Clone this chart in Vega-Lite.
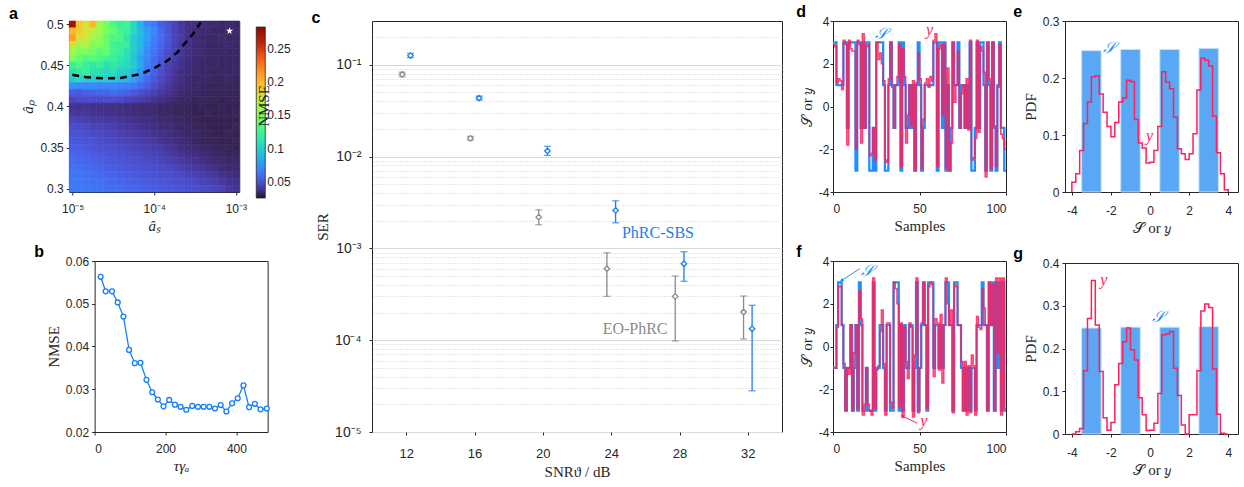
{
  "$schema": "https://vega.github.io/schema/vega-lite/v6.json",
  "background": "white",
  "padding": {"left": 8, "top": 3, "right": 0, "bottom": 0},
  "config": {
    "font": "Liberation Sans",
    "view": {"stroke": "#262626", "strokeWidth": 1},
    "axis": {"labelFont": "Liberation Sans", "labelFontSize": 12, "labelColor": "#262626", "titleFont": "Liberation Serif", "titleFontSize": 15, "titleFontWeight": "normal", "titleColor": "#262626", "domain": false, "tickColor": "#262626", "tickSize": 3, "grid": false, "labelPadding": 3, "titlePadding": 4},
    "axisX": {"labelPadding": 8},
    "title": {"font": "Liberation Sans", "fontSize": 16, "fontWeight": "bold", "anchor": "start", "frame": "bounds", "offset": -5, "baseline": "alphabetic", "color": "black"}
  },
  "resolve": {"scale": {"color": "independent"}},
  "datasets": {
    "heat": [
      {"j":24,"i":[0,1,2,3,4,5,6,7,8,9,10,11,12,13,14,15,16,17,18,19,20,21,22,23,24],"v":[0.27,0.195,0.18,0.2,0.16,0.145,0.13,0.12,0.125,0.105,0.085,0.07,0.065,0.055,0.05,0.045,0.04,0.037,0.036,0.035,0.034,0.034,0.033,0.034,0.033]},
      {"j":23,"i":[0,1,2,3,4,5,6,7,8,9,10,11,12,13,14,15,16,17,18,19,20,21,22,23,24],"v":[0.2,0.19,0.18,0.17,0.16,0.145,0.14,0.125,0.12,0.105,0.09,0.078,0.07,0.058,0.05,0.044,0.04,0.037,0.035,0.034,0.034,0.033,0.033,0.033,0.034]},
      {"j":22,"i":[0,1,2,3,4,5,6,7,8,9,10,11,12,13,14,15,16,17,18,19,20,21,22,23,24],"v":[0.21,0.18,0.175,0.16,0.155,0.14,0.13,0.13,0.115,0.1,0.088,0.08,0.066,0.06,0.052,0.045,0.041,0.037,0.035,0.034,0.033,0.033,0.034,0.033,0.033]},
      {"j":21,"i":[0,1,2,3,4,5,6,7,8,9,10,11,12,13,14,15,16,17,18,19,20,21,22,23,24],"v":[0.18,0.16,0.165,0.15,0.15,0.14,0.125,0.12,0.12,0.1,0.09,0.075,0.065,0.057,0.05,0.044,0.04,0.037,0.035,0.034,0.033,0.033,0.033,0.034,0.033]},
      {"j":20,"i":[0,1,2,3,4,5,6,7,8,9,10,11,12,13,14,15,16,17,18,19,20,21,22,23,24],"v":[0.16,0.15,0.15,0.145,0.135,0.14,0.125,0.12,0.11,0.1,0.085,0.072,0.063,0.055,0.048,0.043,0.039,0.036,0.035,0.034,0.033,0.033,0.033,0.033,0.033]},
      {"j":19,"i":[0,1,2,3,4,5,6,7,8,9,10,11,12,13,14,15,16,17,18,19,20,21,22,23,24],"v":[0.15,0.14,0.13,0.135,0.13,0.125,0.12,0.115,0.11,0.095,0.08,0.07,0.06,0.052,0.046,0.042,0.038,0.036,0.034,0.034,0.033,0.033,0.033,0.033,0.033]},
      {"j":18,"i":[0,1,2,3,4,5,6,7,8,9,10,11,12,13,14,15,16,17,18,19,20,21,22,23,24],"v":[0.12,0.13,0.12,0.115,0.12,0.11,0.115,0.11,0.105,0.1,0.082,0.066,0.06,0.05,0.044,0.04,0.037,0.035,0.034,0.033,0.033,0.033,0.032,0.033,0.033]},
      {"j":17,"i":[0,1,2,3,4,5,6,7,8,9,10,11,12,13,14,15,16,17,18,19,20,21,22,23,24],"v":[0.11,0.115,0.12,0.11,0.11,0.105,0.11,0.1,0.1,0.09,0.075,0.064,0.055,0.048,0.043,0.039,0.036,0.035,0.034,0.033,0.033,0.032,0.033,0.033,0.033]},
      {"j":16,"i":[0,1,2,3,4,5,6,7,8,9,10,11,12,13,14,15,16,17,18,19,20,21,22,23,24],"v":[0.1,0.105,0.1,0.1,0.1,0.1,0.095,0.095,0.09,0.08,0.07,0.06,0.052,0.046,0.042,0.038,0.036,0.034,0.033,0.033,0.033,0.032,0.032,0.033,0.032]},
      {"j":15,"i":[0,1,2,3,4,5,6,7,8,9,10,11,12,13,14,15,16,17,18,19,20,21,22,23,24],"v":[0.075,0.072,0.07,0.072,0.07,0.07,0.07,0.068,0.068,0.065,0.06,0.054,0.048,0.044,0.04,0.037,0.035,0.034,0.033,0.033,0.032,0.032,0.032,0.032,0.032]},
      {"j":14,"i":[0,1,2,3,4,5,6,7,8,9,10,11,12,13,14,15,16,17,18,19,20,21,22,23,24],"v":[0.055,0.052,0.055,0.056,0.058,0.057,0.06,0.058,0.056,0.052,0.049,0.046,0.043,0.04,0.038,0.036,0.034,0.033,0.033,0.032,0.032,0.032,0.032,0.032,0.032]},
      {"j":13,"i":[0,1,2,3,4,5,6,7,8,9,10,11,12,13,14,15,16,17,18,19,20,21,22,23,24],"v":[0.045,0.047,0.048,0.048,0.047,0.048,0.048,0.047,0.045,0.044,0.042,0.04,0.038,0.037,0.035,0.034,0.033,0.033,0.032,0.032,0.032,0.032,0.031,0.032,0.032]},
      {"j":12,"i":[0,1,2,3,4,5,6,7,8,9,10,11,12,13,14,15,16,17,18,19,20,21,22,23,24],"v":[0.038,0.037,0.038,0.037,0.037,0.037,0.036,0.036,0.035,0.035,0.034,0.034,0.034,0.033,0.033,0.032,0.032,0.032,0.031,0.032,0.031,0.031,0.032,0.031,0.031]},
      {"j":11,"i":[0,1,2,3,4,5,6,7,8,9,10,11,12,13,14,15,16,17,18,19,20,21,22,23,24],"v":[0.04,0.039,0.039,0.038,0.038,0.037,0.037,0.036,0.036,0.035,0.035,0.034,0.034,0.033,0.033,0.033,0.032,0.032,0.031,0.031,0.032,0.031,0.031,0.031,0.032]},
      {"j":10,"i":[0,1,2,3,4,5,6,7,8,9,10,11,12,13,14,15,16,17,18,19,20,21,22,23,24],"v":[0.044,0.043,0.042,0.041,0.041,0.04,0.04,0.039,0.038,0.037,0.036,0.036,0.035,0.034,0.034,0.033,0.033,0.032,0.032,0.031,0.031,0.031,0.031,0.031,0.031]},
      {"j":9,"i":[0,1,2,3,4,5,6,7,8,9,10,11,12,13,14,15,16,17,18,19,20,21,22,23,24],"v":[0.048,0.047,0.046,0.044,0.044,0.043,0.042,0.041,0.04,0.039,0.038,0.037,0.036,0.035,0.035,0.034,0.033,0.033,0.032,0.032,0.031,0.031,0.031,0.031,0.032]},
      {"j":8,"i":[0,1,2,3,4,5,6,7,8,9,10,11,12,13,14,15,16,17,18,19,20,21,22,23,24],"v":[0.05,0.05,0.049,0.047,0.046,0.045,0.044,0.043,0.042,0.041,0.04,0.039,0.038,0.037,0.036,0.035,0.034,0.033,0.033,0.032,0.032,0.031,0.031,0.032,0.031]},
      {"j":7,"i":[0,1,2,3,4,5,6,7,8,9,10,11,12,13,14,15,16,17,18,19,20,21,22,23,24],"v":[0.052,0.051,0.05,0.05,0.048,0.047,0.046,0.045,0.044,0.043,0.042,0.041,0.04,0.038,0.037,0.036,0.035,0.034,0.033,0.032,0.032,0.032,0.031,0.031,0.032]},
      {"j":6,"i":[0,1,2,3,4,5,6,7,8,9,10,11,12,13,14,15,16,17,18,19,20,21,22,23,24],"v":[0.055,0.054,0.052,0.051,0.05,0.049,0.048,0.047,0.046,0.045,0.044,0.043,0.042,0.041,0.039,0.038,0.036,0.035,0.034,0.033,0.033,0.032,0.032,0.032,0.031]},
      {"j":5,"i":[0,1,2,3,4,5,6,7,8,9,10,11,12,13,14,15,16,17,18,19,20,21,22,23,24],"v":[0.057,0.056,0.055,0.053,0.052,0.051,0.05,0.049,0.048,0.047,0.046,0.045,0.044,0.043,0.041,0.04,0.038,0.037,0.036,0.035,0.034,0.033,0.033,0.032,0.032]},
      {"j":4,"i":[0,1,2,3,4,5,6,7,8,9,10,11,12,13,14,15,16,17,18,19,20,21,22,23,24],"v":[0.06,0.058,0.057,0.056,0.054,0.053,0.052,0.051,0.05,0.049,0.048,0.047,0.046,0.045,0.043,0.042,0.041,0.039,0.038,0.036,0.035,0.034,0.034,0.033,0.033]},
      {"j":3,"i":[0,1,2,3,4,5,6,7,8,9,10,11,12,13,14,15,16,17,18,19,20,21,22,23,24],"v":[0.062,0.061,0.059,0.058,0.057,0.055,0.054,0.053,0.052,0.051,0.05,0.049,0.048,0.047,0.046,0.045,0.043,0.042,0.04,0.039,0.038,0.036,0.035,0.034,0.034]},
      {"j":2,"i":[0,1,2,3,4,5,6,7,8,9,10,11,12,13,14,15,16,17,18,19,20,21,22,23,24],"v":[0.063,0.062,0.061,0.06,0.059,0.058,0.057,0.055,0.054,0.053,0.052,0.051,0.05,0.049,0.048,0.047,0.046,0.044,0.043,0.042,0.04,0.039,0.037,0.036,0.035]},
      {"j":1,"i":[0,1,2,3,4,5,6,7,8,9,10,11,12,13,14,15,16,17,18,19,20,21,22,23,24],"v":[0.064,0.064,0.063,0.062,0.061,0.06,0.058,0.057,0.056,0.055,0.054,0.053,0.052,0.051,0.05,0.049,0.048,0.047,0.046,0.044,0.043,0.042,0.04,0.038,0.037]},
      {"j":0,"i":[0,1,2,3,4,5,6,7,8,9,10,11,12,13,14,15,16,17,18,19,20,21,22,23,24],"v":[0.064,0.065,0.064,0.063,0.062,0.061,0.06,0.059,0.058,0.057,0.056,0.055,0.054,0.053,0.052,0.051,0.05,0.049,0.048,0.047,0.046,0.045,0.043,0.04,0.038]}
    ],
    "dash": [
      {"lx":-5.005,"ap":0.4388},{"lx":-4.821,"ap":0.4355},{"lx":-4.617,"ap":0.4343},{"lx":-4.4125,"ap":0.4347},{"lx":-4.1675,"ap":0.4395},{"lx":-3.983,"ap":0.4477},{"lx":-3.84,"ap":0.4558},{"lx":-3.718,"ap":0.4659},{"lx":-3.596,"ap":0.4802},{"lx":-3.493,"ap":0.4924},{"lx":-3.432,"ap":0.5025}
    ],
    "star": [{"lx":-3.077,"ap":0.492}],
    "nmse": [
      {"t":17,"e":0.0563},{"t":31.2,"e":0.0529},{"t":49.1,"e":0.0529},{"t":65.2,"e":0.0503},{"t":81.2,"e":0.047},{"t":97.2,"e":0.0392},{"t":113.2,"e":0.0361},{"t":129.3,"e":0.0362},{"t":146.3,"e":0.0322},{"t":162.3,"e":0.0293},{"t":178.3,"e":0.0276},{"t":194.3,"e":0.026},{"t":210.4,"e":0.0275},{"t":226.4,"e":0.0264},{"t":242.4,"e":0.0259},{"t":258.5,"e":0.0252},{"t":275.4,"e":0.0261},{"t":291.5,"e":0.0259},{"t":307.5,"e":0.0259},{"t":323.5,"e":0.0259},{"t":339.5,"e":0.0255},{"t":355.6,"e":0.0263},{"t":371.6,"e":0.0248},{"t":387.6,"e":0.0267},{"t":403.7,"e":0.0279},{"t":419.7,"e":0.0309},{"t":435.7,"e":0.0258},{"t":451.8,"e":0.0266},{"t":467.8,"e":0.0253},{"t":485.7,"e":0.0255}
    ],
    "ser": [
      {"m":"EO-PhRC","snr":11.77,"ser":0.0785,"lo":0.074,"hi":0.083},
      {"m":"EO-PhRC","snr":15.76,"ser":0.0158,"lo":0.0151,"hi":0.0166},
      {"m":"EO-PhRC","snr":19.76,"ser":0.00219,"lo":0.00181,"hi":0.00263},
      {"m":"EO-PhRC","snr":23.75,"ser":0.0006,"lo":0.0003,"hi":0.000897},
      {"m":"EO-PhRC","snr":27.75,"ser":0.0003,"lo":0.000098,"hi":0.0005},
      {"m":"EO-PhRC","snr":31.75,"ser":0.000203,"lo":0.000103,"hi":0.000303},
      {"m":"PhRC-SBS","snr":12.25,"ser":0.126,"lo":0.12,"hi":0.133},
      {"m":"PhRC-SBS","snr":16.27,"ser":0.0434,"lo":0.0413,"hi":0.0456},
      {"m":"PhRC-SBS","snr":20.27,"ser":0.01153,"lo":0.0103,"hi":0.01295},
      {"m":"PhRC-SBS","snr":24.26,"ser":0.00259,"lo":0.0019,"hi":0.0033},
      {"m":"PhRC-SBS","snr":28.26,"ser":0.000681,"lo":0.000438,"hi":0.00092},
      {"m":"PhRC-SBS","snr":32.25,"ser":0.000133,"lo":0.0000281,"hi":0.00024}
    ],
    "serlab": [
      {"m":"PhRC-SBS","snr":24.63,"ser":0.00148,"t":"PhRC-SBS"},
      {"m":"EO-PhRC","snr":23.5,"ser":0.000132,"t":"EO-PhRC"}
    ],
    "dsig": [
      {"n":0,"S":3,"y":2.9},{"n":1,"S":3,"y":2.8},{"n":2,"S":1,"y":1.1},{"n":3,"S":1,"y":1.3},{"n":4,"S":1,"y":1.2},{"n":5,"S":1,"y":0.8},{"n":6,"S":3,"y":3.1},{"n":7,"S":3,"y":2.9},{"n":8,"S":-1,"y":-1.8},{"n":9,"S":3,"y":3.1},
      {"n":10,"S":3,"y":2.7},{"n":11,"S":3,"y":2.6},{"n":12,"S":3,"y":2.6},{"n":13,"S":-3,"y":-2.0},{"n":14,"S":3,"y":3.1},{"n":15,"S":3,"y":2.9},{"n":16,"S":-1,"y":-1.7},{"n":17,"S":3,"y":3.4},{"n":18,"S":-1,"y":-1.0},{"n":19,"S":3,"y":2.8},
      {"n":20,"S":3,"y":2.9},{"n":21,"S":-3,"y":-2.3},{"n":22,"S":-3,"y":-2.2},{"n":23,"S":-1,"y":-1.0},{"n":24,"S":-3,"y":-2.5},{"n":25,"S":3,"y":3.0},{"n":26,"S":3,"y":2.2},{"n":27,"S":3,"y":2.5},{"n":28,"S":3,"y":2.0},{"n":29,"S":1,"y":1.2},
      {"n":30,"S":-3,"y":-2.5},{"n":31,"S":-3,"y":-2.6},{"n":32,"S":1,"y":1.3},{"n":33,"S":3,"y":3.0},{"n":34,"S":1,"y":0.9},{"n":35,"S":-1,"y":-1.0},{"n":36,"S":1,"y":1.0},{"n":37,"S":1,"y":1.4},{"n":38,"S":3,"y":2.9},{"n":39,"S":-3,"y":-2.8},
      {"n":40,"S":3,"y":2.7},{"n":41,"S":1,"y":1.4},{"n":42,"S":-1,"y":-1.7},{"n":43,"S":-1,"y":-0.4},{"n":44,"S":1,"y":1.0},{"n":45,"S":-1,"y":-0.9},{"n":46,"S":1,"y":1.2},{"n":47,"S":-3,"y":-3.0},{"n":48,"S":1,"y":1.1},{"n":49,"S":3,"y":2.5},
      {"n":50,"S":1,"y":1.3},{"n":51,"S":-3,"y":-2.9},{"n":52,"S":-1,"y":-0.6},{"n":53,"S":1,"y":1.1},{"n":54,"S":1,"y":1.3},{"n":55,"S":1,"y":0.9},{"n":56,"S":1,"y":1.4},{"n":57,"S":1,"y":1.2},{"n":58,"S":3,"y":3.1},{"n":59,"S":3,"y":3.4},
      {"n":60,"S":-3,"y":-2.8},{"n":61,"S":3,"y":2.7},{"n":62,"S":3,"y":2.9},{"n":63,"S":-1,"y":-0.4},{"n":64,"S":3,"y":2.9},{"n":65,"S":-3,"y":-2.9},{"n":66,"S":1,"y":1.8},{"n":67,"S":-3,"y":-3.0},{"n":68,"S":-1,"y":-1.7},{"n":69,"S":3,"y":3.0},
      {"n":70,"S":1,"y":0.2},{"n":71,"S":1,"y":1.0},{"n":72,"S":3,"y":2.6},{"n":73,"S":-1,"y":-1.0},{"n":74,"S":1,"y":0.6},{"n":75,"S":1,"y":1.0},{"n":76,"S":-1,"y":-1.0},{"n":77,"S":1,"y":1.3},{"n":78,"S":-1,"y":-1.1},{"n":79,"S":3,"y":3.1},
      {"n":80,"S":-3,"y":-2.5},{"n":81,"S":-3,"y":-2.4},{"n":82,"S":-1,"y":-1.5},{"n":83,"S":3,"y":3.1},{"n":84,"S":-1,"y":-1.2},{"n":85,"S":3,"y":2.8},{"n":86,"S":3,"y":2.6},{"n":87,"S":1,"y":1.6},{"n":88,"S":-3,"y":-3.3},{"n":89,"S":3,"y":3.0},
      {"n":90,"S":1,"y":1.3},{"n":91,"S":-3,"y":-2.9},{"n":92,"S":3,"y":3.0},{"n":93,"S":-1,"y":-0.9},{"n":94,"S":-3,"y":-2.8},{"n":95,"S":1,"y":0.9},{"n":96,"S":3,"y":2.9},{"n":97,"S":-1,"y":-1.3},{"n":98,"S":-1,"y":-1.5},{"n":99,"S":-3,"y":-2.0},
      {"n":100,"S":-3,"y":-2.0}
    ],
    "fsig": [
      {"n":0,"S":-1,"y":-1.0},{"n":1,"S":-1,"y":-1.0},{"n":2,"S":1,"y":0.9},{"n":3,"S":3,"y":2.8},{"n":4,"S":3,"y":2.8},{"n":5,"S":1,"y":1.0},{"n":6,"S":-1,"y":-0.8},{"n":7,"S":-3,"y":-3.0},{"n":8,"S":-1,"y":-1.0},{"n":9,"S":-1,"y":-1.3},
      {"n":10,"S":1,"y":1.0},{"n":11,"S":-3,"y":-3.0},{"n":12,"S":-1,"y":-0.3},{"n":13,"S":1,"y":1.0},{"n":14,"S":-3,"y":-2.9},{"n":15,"S":3,"y":2.6},{"n":16,"S":1,"y":1.3},{"n":17,"S":-3,"y":-3.2},{"n":18,"S":-3,"y":-2.7},{"n":19,"S":-1,"y":-1.0},
      {"n":20,"S":-3,"y":-2.7},{"n":21,"S":-3,"y":-3.0},{"n":22,"S":-3,"y":-3.2},{"n":23,"S":3,"y":3.2},{"n":24,"S":-3,"y":-2.9},{"n":25,"S":-1,"y":-1.1},{"n":26,"S":-1,"y":-0.9},{"n":27,"S":1,"y":0.7},{"n":28,"S":1,"y":1.7},{"n":29,"S":-1,"y":-0.8},
      {"n":30,"S":-3,"y":-3.2},{"n":31,"S":1,"y":1.1},{"n":32,"S":1,"y":1.1},{"n":33,"S":-3,"y":-2.6},{"n":34,"S":-3,"y":-2.9},{"n":35,"S":3,"y":3.0},{"n":36,"S":3,"y":2.7},{"n":37,"S":3,"y":2.0},{"n":38,"S":-3,"y":-2.8},{"n":39,"S":1,"y":1.1},
      {"n":40,"S":-3,"y":-3.3},{"n":41,"S":1,"y":0.9},{"n":42,"S":-1,"y":-0.7},{"n":43,"S":-1,"y":-1.5},{"n":44,"S":1,"y":1.1},{"n":45,"S":1,"y":0.9},{"n":46,"S":-3,"y":-3.3},{"n":47,"S":-1,"y":-0.4},{"n":48,"S":3,"y":3.2},{"n":49,"S":-3,"y":-3.1},
      {"n":50,"S":-1,"y":-1.0},{"n":51,"S":1,"y":1.1},{"n":52,"S":3,"y":3.0},{"n":53,"S":1,"y":1.0},{"n":54,"S":-3,"y":-2.9},{"n":55,"S":3,"y":2.8},{"n":56,"S":3,"y":3.0},{"n":57,"S":3,"y":2.9},{"n":58,"S":-1,"y":-1.4},{"n":59,"S":1,"y":1.3},
      {"n":60,"S":1,"y":1.1},{"n":61,"S":-1,"y":-1.1},{"n":62,"S":1,"y":1.5},{"n":63,"S":-1,"y":-1.7},{"n":64,"S":1,"y":1.0},{"n":65,"S":3,"y":3.2},{"n":66,"S":3,"y":2.0},{"n":67,"S":1,"y":1.0},{"n":68,"S":1,"y":1.7},{"n":69,"S":-3,"y":-3.1},
      {"n":70,"S":3,"y":2.9},{"n":71,"S":3,"y":2.8},{"n":72,"S":1,"y":1.0},{"n":73,"S":1,"y":1.0},{"n":74,"S":-1,"y":-0.7},{"n":75,"S":-3,"y":-3.0},{"n":76,"S":-1,"y":-0.7},{"n":77,"S":-3,"y":-3.2},{"n":78,"S":-1,"y":-0.9},{"n":79,"S":-3,"y":-3.1},
      {"n":80,"S":-1,"y":-0.4},{"n":81,"S":-1,"y":-0.9},{"n":82,"S":-3,"y":-3.2},{"n":83,"S":1,"y":1.4},{"n":84,"S":1,"y":0.9},{"n":85,"S":1,"y":0.8},{"n":86,"S":3,"y":2.7},{"n":87,"S":1,"y":1.8},{"n":88,"S":1,"y":1.0},{"n":89,"S":-3,"y":-3.0},
      {"n":90,"S":3,"y":3.0},{"n":91,"S":1,"y":1.0},{"n":92,"S":3,"y":2.9},{"n":93,"S":-3,"y":-3.0},{"n":94,"S":3,"y":3.2},{"n":95,"S":-1,"y":-0.3},{"n":96,"S":3,"y":3.2},{"n":97,"S":-3,"y":-3.2},{"n":98,"S":3,"y":3.2},{"n":99,"S":-3,"y":-2.9},
      {"n":100,"S":-3,"y":-2.9}
    ],
    "dlab": [{"n":28,"v":3.41,"t":"𝒮","m":"S"},{"n":55.8,"v":3.6,"t":"y","m":"y"}],
    "flab": [{"n":19.5,"v":3.53,"t":"𝒮","m":"S"},{"n":52.5,"v":-3.5,"t":"y","m":"y"}],
    "farrow": [{"n":15.5,"v":3.64,"n2":5.2,"v2":3.1,"m":"S"},{"n":48.6,"v":-3.58,"n2":40.4,"v2":-3.27,"m":"y"}],
    "ebars": [{"lo":-3.5,"hi":-2.5,"p":0.248},{"lo":-1.5,"hi":-0.5,"p":0.25},{"lo":0.5,"hi":1.5,"p":0.25},{"lo":2.5,"hi":3.5,"p":0.252}],
    "gbars": [{"lo":-3.5,"hi":-2.5,"p":0.248},{"lo":-1.5,"hi":-0.5,"p":0.25},{"lo":0.5,"hi":1.5,"p":0.25},{"lo":2.5,"hi":3.5,"p":0.251}],
    "estairs": [
      {"x":-4,"p":0},{"x":-4,"p":0.017},{"x":-3.8,"p":0.032},{"x":-3.6,"p":0.073},{"x":-3.4,"p":0.12},{"x":-3.2,"p":0.158},{"x":-3.0,"p":0.202},{"x":-2.8,"p":0.204},{"x":-2.6,"p":0.172},{"x":-2.4,"p":0.14},{"x":-2.2,"p":0.115},
      {"x":-2.0,"p":0.097},{"x":-1.8,"p":0.122},{"x":-1.6,"p":0.158},{"x":-1.4,"p":0.165},{"x":-1.2,"p":0.196},{"x":-1.0,"p":0.194},{"x":-0.8,"p":0.127},{"x":-0.6,"p":0.086},{"x":-0.4,"p":0.077},{"x":-0.2,"p":0.051},
      {"x":0.0,"p":0.052},{"x":0.2,"p":0.073},{"x":0.4,"p":0.115},{"x":0.6,"p":0.211},{"x":0.8,"p":0.193},{"x":1.0,"p":0.181},{"x":1.2,"p":0.131},{"x":1.4,"p":0.076},{"x":1.6,"p":0.067},{"x":1.8,"p":0.057},
      {"x":2.0,"p":0.067},{"x":2.2,"p":0.102},{"x":2.4,"p":0.179},{"x":2.6,"p":0.235},{"x":2.8,"p":0.231},{"x":3.0,"p":0.221},{"x":3.2,"p":0.133},{"x":3.4,"p":0.069},{"x":3.6,"p":0.032},{"x":3.8,"p":0.004},{"x":4.0,"p":0}
    ],
    "gstairs": [
      {"x":-4,"p":0},{"x":-4,"p":0},{"x":-3.8,"p":0.005},{"x":-3.6,"p":0.013},{"x":-3.4,"p":0.148},{"x":-3.2,"p":0.27},{"x":-3.0,"p":0.359},{"x":-2.8,"p":0.255},{"x":-2.6,"p":0.146},{"x":-2.4,"p":0.038},{"x":-2.2,"p":0.009},
      {"x":-2.0,"p":0.027},{"x":-1.8,"p":0.115},{"x":-1.6,"p":0.165},{"x":-1.4,"p":0.216},{"x":-1.2,"p":0.248},{"x":-1.0,"p":0.197},{"x":-0.8,"p":0.173},{"x":-0.6,"p":0.085},{"x":-0.4,"p":0.045},{"x":-0.2,"p":0.008},
      {"x":0.0,"p":0.009},{"x":0.2,"p":0.025},{"x":0.4,"p":0.095},{"x":0.6,"p":0.232},{"x":0.8,"p":0.234},{"x":1.0,"p":0.24},{"x":1.2,"p":0.154},{"x":1.4,"p":0.09},{"x":1.6,"p":0.021},{"x":1.8,"p":0.0},
      {"x":2.0,"p":0.045},{"x":2.2,"p":0.045},{"x":2.4,"p":0.148},{"x":2.6,"p":0.288},{"x":2.8,"p":0.304},{"x":3.0,"p":0.296},{"x":3.2,"p":0.152},{"x":3.4,"p":0.046},{"x":3.6,"p":0.002},{"x":3.8,"p":0},{"x":4.0,"p":0}
    ],
    "elab": [{"x":-2.12,"p":0.253,"t":"𝒮","m":"S"},{"x":-0.02,"p":0.098,"t":"y","m":"y"}],
    "glab": [{"x":-2.36,"p":0.361,"t":"y","m":"y"},{"x":0.41,"p":0.273,"t":"𝒮","m":"S"}]
  },
  "spacing": 12,
  "hconcat": [
    {
      "spacing": 9,
      "center": true,
      "vconcat": [
        {
          "title": {"text": "a", "dx": -12},
          "width": 170,
          "height": 171,
          "layer": [
            {
              "data": {"name": "heat"},
              "transform": [{"flatten": ["i", "v"]}],
              "mark": {"type": "rect", "strokeWidth": 0.6},
              "encoding": {
                "x": {"field": "i", "type": "ordinal", "scale": {"paddingInner": 0, "paddingOuter": 0}, "axis": null},
                "y": {"field": "j", "type": "ordinal", "sort": "descending", "scale": {"paddingInner": 0, "paddingOuter": 0}, "axis": null},
                "stroke": {"field": "v", "type": "quantitative", "scale": {"scheme": "turbo", "domain": [0.026, 0.2825]}, "legend": null},
                "color": {
                  "field": "v", "type": "quantitative",
                  "scale": {"scheme": "turbo", "domain": [0.026, 0.2825], "nice": false},
                  "legend": {
                    "orient": "right", "offset": -4, "padding": 6, "gradientLength": 171, "gradientThickness": 9,
                    "values": [0.05, 0.1, 0.15, 0.2, 0.25], "labelExpr": "format(datum.value, '.2~f')", "labelOverlap": false,
                    "labelFont": "Liberation Sans", "labelFontSize": 12, "labelColor": "#262626",
                    "gradientStrokeColor": "#262626", "gradientStrokeWidth": 0.8,
                    "title": "NMSE", "titleOrient": "left", "titleFont": "Liberation Serif", "titleFontSize": 15, "titleFontWeight": "normal", "titleColor": "#262626", "titlePadding": 0,
                    "encode": {"title": {"update": {"angle": {"value": -90}, "dy": {"value": 16}, "dx": {"value": 4}}}}
                  }
                }
              }
            },
            {
              "layer": [
                {
                  "data": {"name": "dash"},
                  "mark": {"type": "line", "color": "black", "strokeWidth": 2.5, "strokeDash": [7, 5]},
                  "encoding": {
                    "x": {"field": "lx", "type": "quantitative", "scale": {"domain": [-5.0417, -2.9583], "nice": false, "zero": false},
                          "axis": {"orient": "bottom", "values": [-5, -4, -3], "labelExpr": "datum.value == -5 ? '10⁻⁵' : datum.value == -4 ? '10⁻⁴' : '10⁻³'", "title": "âₛ", "titleFontStyle": "italic"}},
                    "y": {"field": "ap", "type": "quantitative", "scale": {"domain": [0.29583, 0.50417], "nice": false, "zero": false},
                          "axis": {"orient": "left", "values": [0.3, 0.35, 0.4, 0.45, 0.5], "format": "~g", "title": "âₚ", "titleFontStyle": "italic"}}
                  }
                },
                {
                  "data": {"name": "star"},
                  "mark": {"type": "point", "shape": "M0,-1L0.2245,-0.309L0.951,-0.309L0.363,0.118L0.588,0.809L0,0.382L-0.588,0.809L-0.363,0.118L-0.951,-0.309L-0.2245,-0.309Z", "filled": true, "color": "white", "size": 55, "opacity": 1},
                  "encoding": {"x": {"field": "lx", "type": "quantitative"}, "y": {"field": "ap", "type": "quantitative"}}
                }
              ]
            }
          ],
          "resolve": {"scale": {"x": "independent", "y": "independent", "color": "independent"}}
        },
        {
          "title": {"text": "b", "dx": -12},
          "width": 173,
          "height": 171,
          "data": {"name": "nmse"},
          "layer": [
            {
              "mark": {"type": "line", "color": "#1480ff", "strokeWidth": 1.3},
              "encoding": {
                "x": {"field": "t", "type": "quantitative", "scale": {"domain": [0, 488], "nice": false}, "axis": {"values": [0, 200, 400], "title": "τγₐ", "titleFontStyle": "italic"}},
                "y": {"field": "e", "type": "quantitative", "scale": {"domain": [0.02, 0.06], "nice": false, "zero": false}, "axis": {"values": [0.02, 0.03, 0.04, 0.05, 0.06], "format": ".2f", "title": "NMSE"}}
              }
            },
            {
              "mark": {"type": "point", "shape": "circle", "filled": false, "fill": "white", "color": "#1480ff", "strokeWidth": 1.3, "size": 24, "opacity": 1},
              "encoding": {"x": {"field": "t", "type": "quantitative"}, "y": {"field": "e", "type": "quantitative"}}
            }
          ]
        }
      ]
    },
    {
      "spacing": 12,
      "resolve": {"scale": {"color": "independent"}},
      "hconcat": [
        {
          "title": {"text": "c", "dx": -4},
          "width": 410,
          "height": 411,
          "layer": [
            {
              "data": {"name": "ser"},
              "mark": {"type": "rule", "strokeWidth": 1.3},
              "encoding": {
                "x": {"field": "snr", "type": "quantitative", "scale": {"domain": [10, 34], "nice": false, "zero": false}, "axis": {"values": [12, 16, 20, 24, 28, 32], "labelFontSize": 13, "labelPadding": 12, "title": "SNRϑ / dB"}},
                "y": {"field": "lo", "type": "quantitative", "scale": {"type": "log", "domain": [0.00001, 0.3], "nice": false},
                      "axis": {"orient": "right", "values": [0.00002,0.00003,0.00004,0.00005,0.00006,0.00007,0.00008,0.00009,0.0002,0.0003,0.0004,0.0005,0.0006,0.0007,0.0008,0.0009,0.002,0.003,0.004,0.005,0.006,0.007,0.008,0.009,0.02,0.03,0.04,0.05,0.06,0.07,0.08,0.09,0.2],
                               "grid": true, "gridDash": [1, 2], "gridColor": "#c4c4c4", "gridWidth": 0.8, "labels": false, "ticks": false, "domain": false, "title": null}},
                "y2": {"field": "hi"},
                "color": {"field": "m", "type": "nominal", "scale": {"domain": ["PhRC-SBS", "EO-PhRC"], "range": ["#1a7ff2", "#8a8a8a"]}, "legend": null}
              }
            },
            {
              "data": {"name": "ser"},
              "mark": {"type": "tick", "orient": "horizontal", "size": 7, "thickness": 1.3},
              "encoding": {
                "x": {"field": "snr", "type": "quantitative"},
                "y": {"field": "lo", "type": "quantitative", "axis": null},
                "color": {"field": "m", "type": "nominal", "legend": null}
              }
            },
            {
              "data": {"name": "ser"},
              "mark": {"type": "tick", "orient": "horizontal", "size": 7, "thickness": 1.3},
              "encoding": {
                "x": {"field": "snr", "type": "quantitative"},
                "y": {"field": "hi", "type": "quantitative", "axis": null},
                "color": {"field": "m", "type": "nominal", "legend": null}
              }
            },
            {
              "data": {"name": "ser"},
              "mark": {"type": "point", "shape": "diamond", "filled": false, "fill": "white", "size": 30, "strokeWidth": 1.3, "opacity": 1},
              "encoding": {
                "x": {"field": "snr", "type": "quantitative"},
                "y": {"field": "ser", "type": "quantitative",
                      "axis": {"orient": "left", "values": [0.00001, 0.0001, 0.001, 0.01, 0.1], "grid": true, "gridColor": "#d9d9d9", "gridWidth": 1, "labelPadding": 8, "labelFontSize": 14,
                               "labelExpr": "datum.value < 0.00005 ? '10⁻⁵' : datum.value < 0.0005 ? '10⁻⁴' : datum.value < 0.005 ? '10⁻³' : datum.value < 0.05 ? '10⁻²' : '10⁻¹'", "title": "SER"}},
                "color": {"field": "m", "type": "nominal", "legend": null}
              }
            },
            {
              "data": {"name": "serlab"},
              "mark": {"type": "text", "align": "left", "baseline": "middle", "font": "Liberation Serif", "fontSize": 16},
              "encoding": {
                "x": {"field": "snr", "type": "quantitative"},
                "y": {"field": "ser", "type": "quantitative", "axis": null},
                "text": {"field": "t"},
                "color": {"field": "m", "type": "nominal", "legend": null}
              }
            }
          ],
          "resolve": {"axis": {"y": "independent"}}
        },
        {
          "spacing": 0,
          "hconcat": [
            {
              "spacing": 9,
              "vconcat": [
                {
                  "title": {"text": "d", "dx": -3},
                  "width": 173,
                  "height": 171,
                  "layer": [
                    {
                      "data": {"name": "dsig"},
                      "mark": {"type": "line", "interpolate": "step-after", "color": "#1e8fff", "strokeWidth": 2.3},
                      "encoding": {
                        "x": {"field": "n", "type": "quantitative", "scale": {"domain": [0, 100], "nice": false}, "axis": {"values": [0, 50, 100], "title": "Samples"}},
                        "y": {"field": "S", "type": "quantitative", "scale": {"domain": [-4, 4], "nice": false}, "axis": {"values": [-4, -2, 0, 2, 4], "labelPadding": 1, "labelExpr": "datum.value < 0 ? '-' + format(-datum.value, '~g') : format(datum.value, '~g')", "title": "𝒮 or 𝑦"}}
                      }
                    },
                    {
                      "data": {"name": "dsig"},
                      "mark": {"type": "line", "interpolate": "step-after", "color": "#ff1f5b", "strokeWidth": 1.6, "opacity": 0.85},
                      "encoding": {"x": {"field": "n", "type": "quantitative"}, "y": {"field": "y", "type": "quantitative"}}
                    },
                    {
                      "data": {"name": "dlab"},
                      "mark": {"type": "text", "font": "Liberation Serif", "fontSize": 16, "fontStyle": "italic"},
                      "encoding": {
                        "x": {"field": "n", "type": "quantitative"}, "y": {"field": "v", "type": "quantitative"}, "text": {"field": "t"},
                        "color": {"field": "m", "type": "nominal", "scale": {"domain": ["S", "y"], "range": ["#1e8fff", "#ff1f5b"]}, "legend": null}
                      }
                    }
                  ]
                },
                {
                  "title": {"text": "f", "dx": -3},
                  "width": 173,
                  "height": 171,
                  "layer": [
                    {
                      "data": {"name": "fsig"},
                      "mark": {"type": "line", "interpolate": "step-after", "color": "#1e8fff", "strokeWidth": 2.3},
                      "encoding": {
                        "x": {"field": "n", "type": "quantitative", "scale": {"domain": [0, 100], "nice": false}, "axis": {"values": [0, 50, 100], "title": "Samples"}},
                        "y": {"field": "S", "type": "quantitative", "scale": {"domain": [-4, 4], "nice": false}, "axis": {"values": [-4, -2, 0, 2, 4], "labelPadding": 1, "labelExpr": "datum.value < 0 ? '-' + format(-datum.value, '~g') : format(datum.value, '~g')", "title": "𝒮 or 𝑦"}}
                      }
                    },
                    {
                      "data": {"name": "fsig"},
                      "mark": {"type": "line", "interpolate": "step-after", "color": "#ff1f5b", "strokeWidth": 1.6, "opacity": 0.85},
                      "encoding": {"x": {"field": "n", "type": "quantitative"}, "y": {"field": "y", "type": "quantitative"}}
                    },
                    {
                      "data": {"name": "farrow"},
                      "mark": {"type": "rule", "strokeWidth": 1},
                      "encoding": {
                        "x": {"field": "n", "type": "quantitative"}, "y": {"field": "v", "type": "quantitative"},
                        "x2": {"field": "n2"}, "y2": {"field": "v2"},
                        "color": {"field": "m", "type": "nominal", "scale": {"domain": ["S", "y"], "range": ["#1e8fff", "#ff1f5b"]}, "legend": null}
                      }
                    },
                    {
                      "data": {"name": "farrow"},
                      "transform": [{"filter": "datum.m == 'S'"}],
                      "mark": {"type": "point", "shape": "triangle", "filled": true, "size": 18, "angle": 237, "color": "#1e8fff", "opacity": 1},
                      "encoding": {"x": {"field": "n2", "type": "quantitative"}, "y": {"field": "v2", "type": "quantitative"}}
                    },
                    {
                      "data": {"name": "farrow"},
                      "transform": [{"filter": "datum.m == 'y'"}],
                      "mark": {"type": "point", "shape": "triangle", "filled": true, "size": 18, "angle": 295, "color": "#ff1f5b", "opacity": 1},
                      "encoding": {"x": {"field": "n2", "type": "quantitative"}, "y": {"field": "v2", "type": "quantitative"}}
                    },
                    {
                      "data": {"name": "flab"},
                      "mark": {"type": "text", "font": "Liberation Serif", "fontSize": 16, "fontStyle": "italic"},
                      "encoding": {
                        "x": {"field": "n", "type": "quantitative"}, "y": {"field": "v", "type": "quantitative"}, "text": {"field": "t"},
                        "color": {"field": "m", "type": "nominal", "scale": {"domain": ["S", "y"], "range": ["#1e8fff", "#ff1f5b"]}, "legend": null}
                      }
                    }
                  ]
                }
              ]
            },
            {
              "spacing": 9,
              "vconcat": [
                {
                  "title": {"text": "e", "dx": -10},
                  "width": 173,
                  "height": 171,
                  "layer": [
                    {
                      "data": {"name": "ebars"},
                      "mark": {"type": "rect", "color": "#5aa8f5", "stroke": "#c9e0fa", "strokeWidth": 1},
                      "encoding": {
                        "x": {"field": "lo", "type": "quantitative", "scale": {"domain": [-4.35, 4.5], "nice": false, "zero": false}, "axis": {"values": [-4, -2, 0, 2, 4], "labelPadding": 10, "labelExpr": "datum.value < 0 ? '-' + format(-datum.value, '~g') : format(datum.value, '~g')", "title": "𝒮 or 𝑦"}},
                        "x2": {"field": "hi"},
                        "y": {"field": "p", "type": "quantitative", "scale": {"domain": [0, 0.3], "nice": false}, "axis": {"values": [0, 0.1, 0.2, 0.3], "format": "~g", "title": "PDF"}},
                        "y2": {"datum": 0}
                      }
                    },
                    {
                      "data": {"name": "estairs"},
                      "mark": {"type": "line", "interpolate": "step-after", "color": "#ff1f5b", "strokeWidth": 1.5},
                      "encoding": {"x": {"field": "x", "type": "quantitative"}, "y": {"field": "p", "type": "quantitative"}, "order": {"value": null}}
                    },
                    {
                      "data": {"name": "elab"},
                      "mark": {"type": "text", "font": "Liberation Serif", "fontSize": 16, "fontStyle": "italic"},
                      "encoding": {
                        "x": {"field": "x", "type": "quantitative"}, "y": {"field": "p", "type": "quantitative"}, "text": {"field": "t"},
                        "color": {"field": "m", "type": "nominal", "scale": {"domain": ["S", "y"], "range": ["#1e8fff", "#ff1f5b"]}, "legend": null}
                      }
                    }
                  ]
                },
                {
                  "title": {"text": "g", "dx": -10},
                  "width": 173,
                  "height": 171,
                  "layer": [
                    {
                      "data": {"name": "gbars"},
                      "mark": {"type": "rect", "color": "#5aa8f5", "stroke": "#c9e0fa", "strokeWidth": 1},
                      "encoding": {
                        "x": {"field": "lo", "type": "quantitative", "scale": {"domain": [-4.35, 4.5], "nice": false, "zero": false}, "axis": {"values": [-4, -2, 0, 2, 4], "labelPadding": 10, "labelExpr": "datum.value < 0 ? '-' + format(-datum.value, '~g') : format(datum.value, '~g')", "title": "𝒮 or 𝑦"}},
                        "x2": {"field": "hi"},
                        "y": {"field": "p", "type": "quantitative", "scale": {"domain": [0, 0.4], "nice": false}, "axis": {"values": [0, 0.1, 0.2, 0.3, 0.4], "format": "~g", "title": "PDF"}},
                        "y2": {"datum": 0}
                      }
                    },
                    {
                      "data": {"name": "gstairs"},
                      "mark": {"type": "line", "interpolate": "step-after", "color": "#ff1f5b", "strokeWidth": 1.5},
                      "encoding": {"x": {"field": "x", "type": "quantitative"}, "y": {"field": "p", "type": "quantitative"}, "order": {"value": null}}
                    },
                    {
                      "data": {"name": "glab"},
                      "mark": {"type": "text", "font": "Liberation Serif", "fontSize": 16, "fontStyle": "italic"},
                      "encoding": {
                        "x": {"field": "x", "type": "quantitative"}, "y": {"field": "p", "type": "quantitative"}, "text": {"field": "t"},
                        "color": {"field": "m", "type": "nominal", "scale": {"domain": ["S", "y"], "range": ["#1e8fff", "#ff1f5b"]}, "legend": null}
                      }
                    }
                  ]
                }
              ]
            }
          ]
        }
      ]
    }
  ]
}
